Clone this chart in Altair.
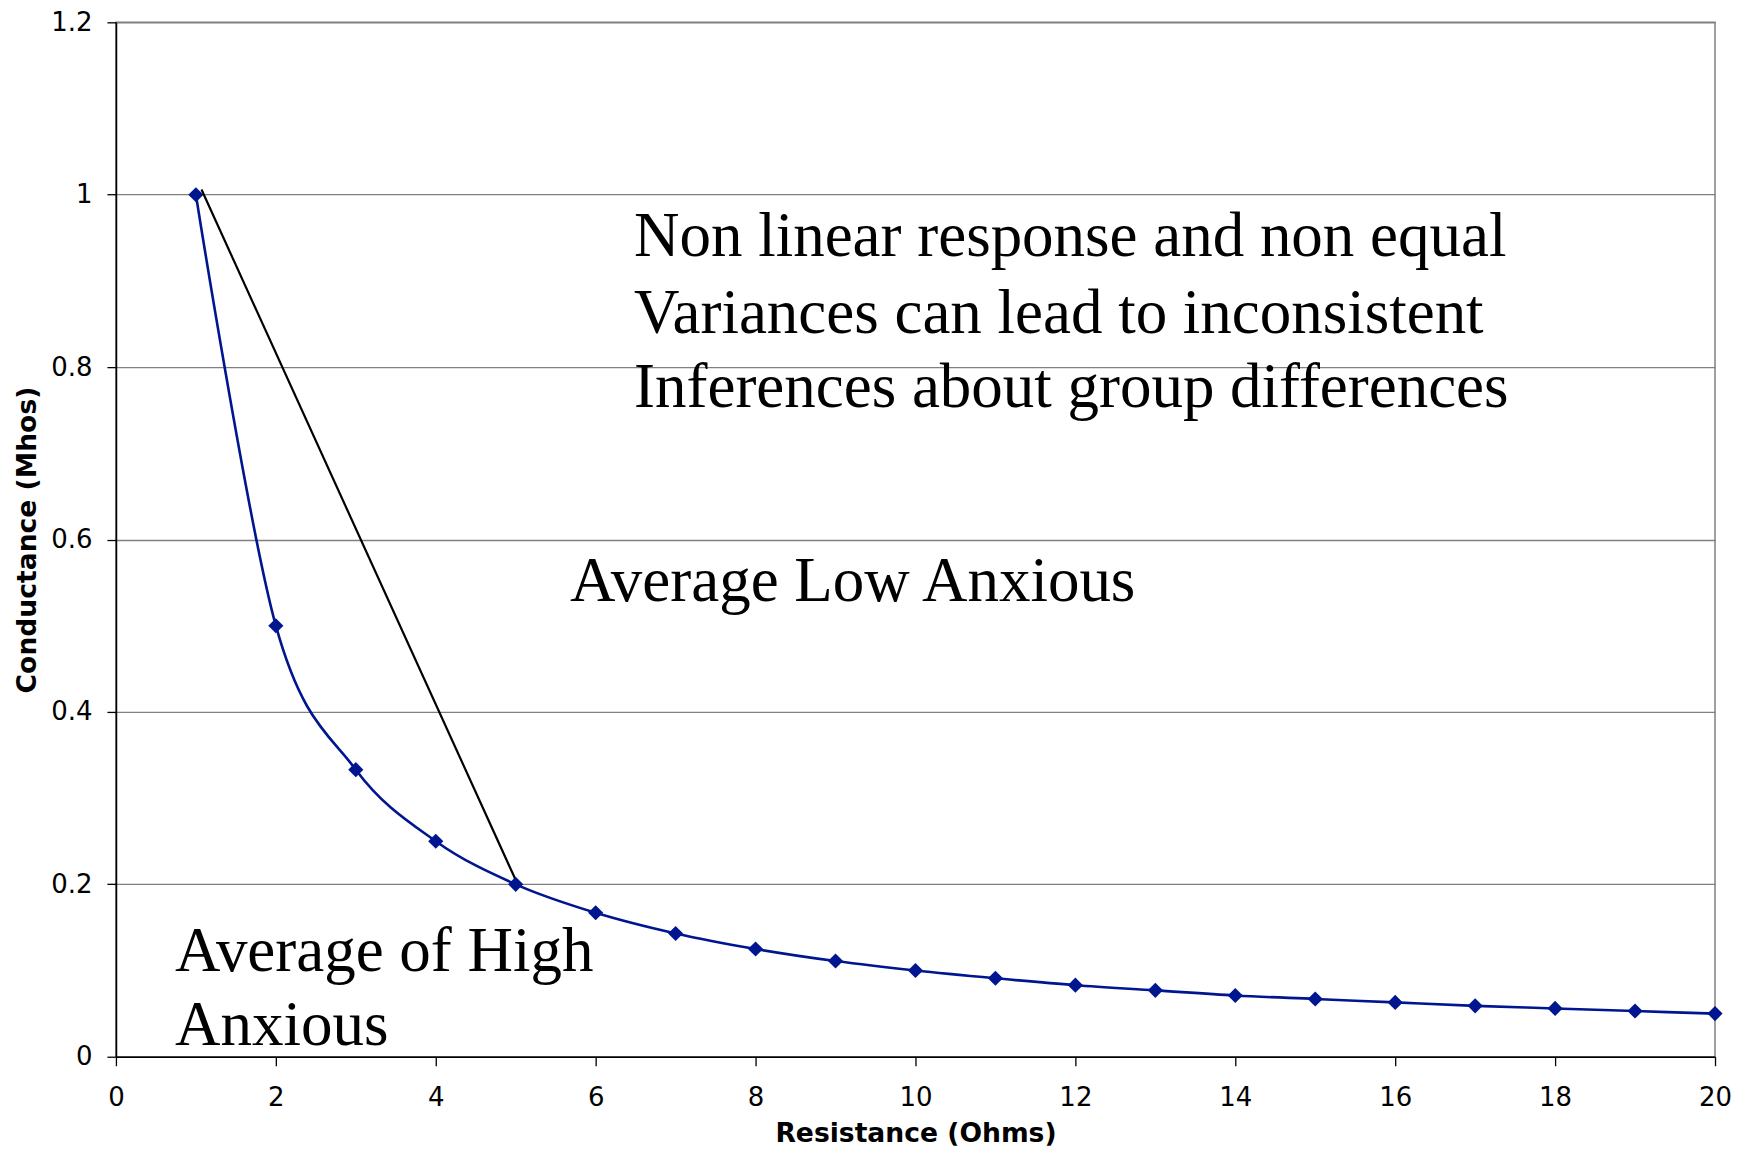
import altair as alt
import pandas as pd

# Series: Conductance vs Resistance
resistance = [1, 2, 3, 4, 5, 6, 7, 8, 9, 10, 11, 12, 13, 14, 15, 16, 17, 18, 19, 20]
conductance = [1.0, 0.5, 0.333, 0.25, 0.2, 0.167, 0.143, 0.125, 0.111, 0.1,
               0.091, 0.083, 0.077, 0.071, 0.067, 0.063, 0.059, 0.056, 0.053, 0.05]

# Straight chord drawn by hand
chord_x = [1.07, 5.0]
chord_y = [1.006, 0.205]

# Annotation lines
note_text = [
    "Non linear response and non equal",
    "Variances can lead to inconsistent",
    "Inferences about group differences",
    "Average Low Anxious",
    "Average of High",
    "Anxious",
]
note_x = [6.48, 6.48, 6.48, 5.68, 0.74, 0.74]
note_y = [0.929, 0.840, 0.754, 0.529, 0.0989, 0.0131]

x_ticks = [0, 2, 4, 6, 8, 10, 12, 14, 16, 18, 20]
y_ticks = [0, 0.2, 0.4, 0.6, 0.8, 1.0, 1.2]

series_df = pd.DataFrame({"x": resistance, "y": conductance})
chord_df = pd.DataFrame({"x": chord_x, "y": chord_y})
note_df = pd.DataFrame({"x": note_x, "y": note_y, "t": note_text})

X = alt.X(
    "x:Q",
    scale=alt.Scale(domain=[0, 20], nice=False, zero=False),
    axis=alt.Axis(
        title="Resistance (Ohms)",
        values=x_ticks,
        grid=False,
        tickSize=9,
        labelPadding=19,
        labelFlush=False,
        labelOverlap=False,
        titleY=85,
        titleBaseline="alphabetic",
    ),
)
Y = alt.Y(
    "y:Q",
    scale=alt.Scale(domain=[0, 1.2], nice=False),
    axis=alt.Axis(
        title="Conductance (Mhos)",
        values=y_ticks,
        format="~g",
        grid=True,
        gridColor="#808080",
        gridWidth=1.3,
        tickSize=9,
        labelPadding=15,
        labelFlush=False,
        labelOverlap=False,
        titleX=-88,
        titleBaseline="middle",
    ),
)

blue = "#001690"

line = alt.Chart(series_df).mark_line(
    color=blue, strokeWidth=2.6, interpolate="cardinal", tension=0
).encode(x=X, y=Y)

points = alt.Chart(series_df).mark_point(
    shape="diamond", filled=True, size=230, color=blue, opacity=1
).encode(x=X, y=Y)

chord = alt.Chart(chord_df).mark_line(color="black", strokeWidth=2.2).encode(x=X, y=Y)

notes = alt.Chart(note_df).mark_text(
    align="left", baseline="alphabetic", font="Liberation Serif",
    fontSize=63, color="black"
).encode(x=X, y=Y, text="t:N")

chart = alt.layer(chord, line, points, notes).properties(
    width=1600,
    height=1035,
    autosize=alt.AutoSizeParams(type="none"),
    padding={"left": 108, "top": 14, "right": 22, "bottom": 92},
).configure_view(
    stroke="#808080", strokeWidth=1.5
).configure_axis(
    labelFont="DejaVu Sans",
    labelFontSize=26,
    labelColor="black",
    titleFont="DejaVu Sans",
    titleFontSize=26.6,
    titleFontWeight="bold",
    titleColor="black",
    domainColor="black",
    domainWidth=1.6,
    tickColor="black",
    tickWidth=1.3,
)

chart.save("out.html", embed_options={"renderer": "svg", "actions": False})
